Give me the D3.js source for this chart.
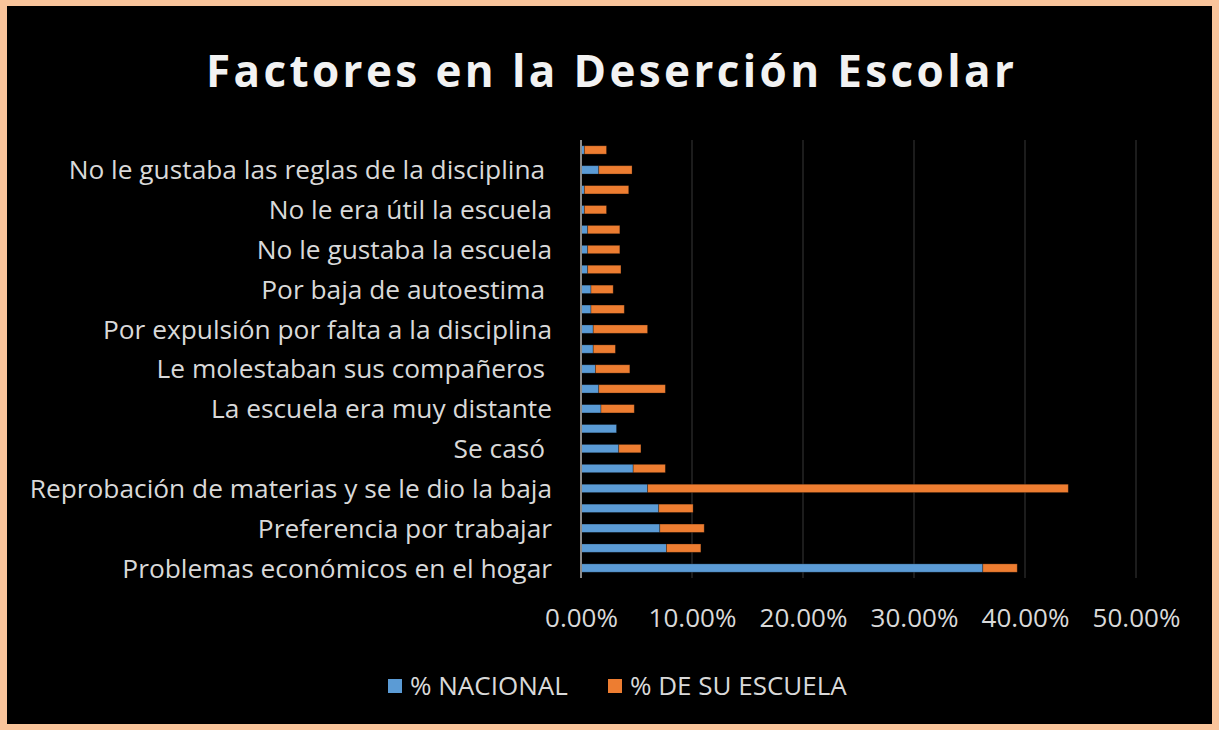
<!DOCTYPE html>
<html>
<head>
<meta charset="utf-8">
<script src="https://cdn.jsdelivr.net/npm/d3@7"></script>
<style>
  html, body { margin: 0; padding: 0; background: #000; }
  text { white-space: pre; }
</style>
</head>
<body>
<div id="chart"></div>
<script>
// categorias de abajo hacia arriba (solo las pares llevan etiqueta visible)
const categories = [
  'Problemas económicos en el hogar', '',
  'Preferencia por trabajar', '',
  'Reprobación de materias y se le dio la baja', '',
  'Se casó ', '',
  'La escuela era muy distante', '',
  'Le molestaban sus compañeros ', '',
  'Por expulsión por falta a la disciplina', '',
  'Por baja de autoestima ', '',
  'No le gustaba la escuela', '',
  'No le era útil la escuela', '',
  'No le gustaba las reglas de la disciplina ', ''
]
const nacional = [36.2, 7.7, 7.1, 7.0, 6.0, 4.7, 3.4, 3.2, 1.8, 1.6, 1.3, 1.1, 1.1, 0.9, 0.9, 0.6, 0.6, 0.6, 0.3, 0.3, 1.6, 0.3]
const escuela = [3.1, 3.1, 4.0, 3.1, 37.9, 2.9, 2.0, 0, 3.0, 6.0, 3.1, 2.0, 4.9, 3.0, 2.0, 3.0, 2.9, 2.9, 2.0, 4.0, 3.0, 2.0]
const seriesNames = ['% NACIONAL', '% DE SU ESCUELA']
const xTicks = [0, 0.1, 0.2, 0.3, 0.4, 0.5]

const w = 1219, h = 730
const margin = { top: 140, right: 83, bottom: 152, left: 581 }
const colors = ['#5B9BD5', '#ED7D31']
const font = "'Open Sans', sans-serif"

let svg = d3.select('#chart').append('svg').attr('width', w).attr('height', h)
  .style('display', 'block')

// fondo y borde
svg.append('rect').attr('width', w).attr('height', h).attr('fill', '#F9C49B')
svg.append('rect').attr('x', 7).attr('y', 6).attr('width', w - 14).attr('height', h - 12)
  .attr('fill', '#000')

// titulo
svg.append('text').text('Factores en la Deserción Escolar')
  .attr('x', 610).attr('y', 87)
  .attr('text-anchor', 'middle')
  .attr('textLength', 808).attr('lengthAdjust', 'spacing')
  .style('font-family', font)
  .style('font-weight', 'bold').style('font-size', '44px')
  .style('fill', '#F2F2F2')

// escalas
let idx = d3.range(categories.length)
let xScale = d3.scaleLinear().domain([0, 0.5]).range([margin.left, w - margin.right])
let yScale = d3.scaleBand().domain(idx)
  .range([h - margin.bottom, margin.top])
  .paddingInner(0.58).paddingOuter(0.29)

// rejilla
svg.append('g').selectAll('line').data(xTicks.slice(1)).enter().append('line')
  .attr('x1', d => xScale(d)).attr('x2', d => xScale(d))
  .attr('y1', margin.top).attr('y2', h - margin.bottom)
  .attr('stroke', '#262626').attr('stroke-width', 1.5)

// barras apiladas
let stackData = idx.map(i => ({ i: i, nacional: nacional[i] / 100, escuela: escuela[i] / 100 }))
let stack = d3.stack().keys(['nacional', 'escuela'])(stackData)
svg.append('g').selectAll('g').data(stack).enter().append('g')
  .attr('fill', (d, k) => colors[k])
  .selectAll('rect').data(d => d).enter().append('rect')
  .attr('x', d => xScale(d[0]))
  .attr('y', d => yScale(d.data.i))
  .attr('width', d => Math.max(0, xScale(d[1]) - xScale(d[0])))
  .attr('height', yScale.bandwidth())
  .attr('stroke', 'rgba(0,0,0,0.35)').attr('stroke-width', 0.8)

// eje vertical
svg.append('line')
  .attr('x1', margin.left).attr('x2', margin.left)
  .attr('y1', margin.top).attr('y2', h - margin.bottom)
  .attr('stroke', '#8C8C8C').attr('stroke-width', 2)

// etiquetas de categorias
svg.append('g').selectAll('text').data(idx.filter(i => categories[i] !== '')).enter().append('text')
  .text(i => categories[i])
  .attr('x', 552)
  .attr('y', i => yScale(i) + yScale.bandwidth() / 2)
  .attr('dy', '0.36em')
  .attr('text-anchor', 'end')
  .style('font-family', font).style('font-size', '26.3px')
  .style('fill', '#D9D9D9')

// eje x
let xAxis = d3.axisBottom(xScale).tickValues(xTicks).tickFormat(d3.format('.2%')).tickSize(0)
let xAxisDom = svg.append('g').attr('transform', `translate(0, ${h - margin.bottom})`).call(xAxis)
xAxisDom.select('.domain').remove()
xAxisDom.selectAll('text')
  .attr('y', 49).attr('dy', 0)
  .style('font-family', font).style('font-size', '26px')
  .style('fill', '#D9D9D9')

// leyenda
let legendX = [388, 608]
let legend = svg.append('g').selectAll('g').data(seriesNames).enter().append('g')
  .attr('transform', (d, i) => `translate(${legendX[i]}, 679)`)
legend.append('rect').attr('width', 14).attr('height', 14)
  .attr('fill', (d, i) => colors[i])
legend.append('text').text(d => d)
  .attr('x', 22).attr('y', 16)
  .style('font-family', font).style('font-size', '26px')
  .style('fill', '#D9D9D9')
</script>
</body>
</html>
